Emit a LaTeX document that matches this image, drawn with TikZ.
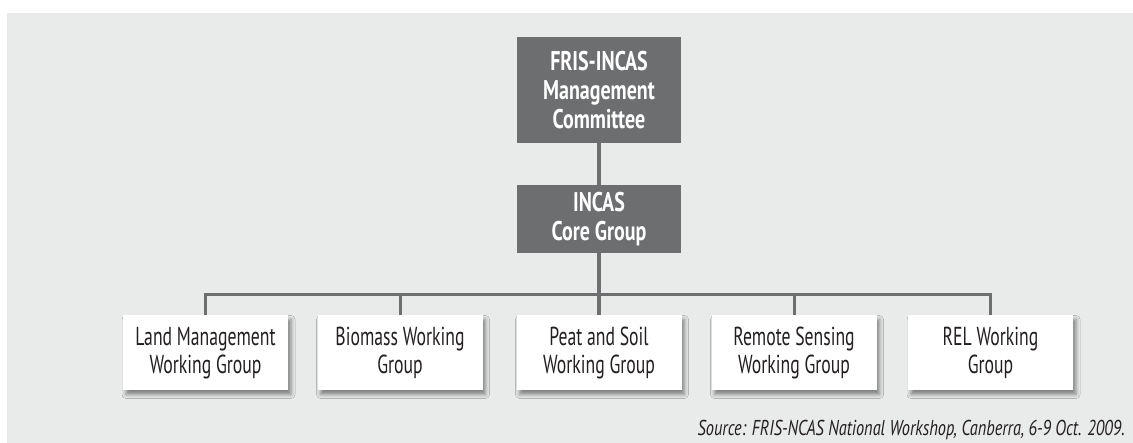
\documentclass[tikz,border=0pt]{standalone}
\usepackage{fontspec}
\setmainfont{PT Sans}[FakeStretch=0.68]
\newfontfamily\headfont{PT Sans}[FakeStretch=0.74]
\newfontfamily\srcfont{PT Sans}[FakeStretch=0.76]
\usetikzlibrary{shadows.blur}

\definecolor{panel}{HTML}{E9EAEA}
\definecolor{darkbox}{HTML}{6D6E70}
\definecolor{ink}{HTML}{231F20}

\tikzset{
  headbox/.style={fill=darkbox, text=white, inner sep=0pt, minimum width=164pt,
    align=center, font=\headfont\bfseries\fontsize{27}{29}\selectfont},
  groupbox/.style={fill=white, text=ink, inner sep=0pt, minimum width=165pt,
    minimum height=75pt, align=center, font=\fontsize{26}{28}\selectfont,
    blur shadow={shadow xshift=3pt, shadow yshift=-4pt, shadow blur radius=4pt,
      shadow opacity=45}},
  trunk/.style={draw=darkbox, line width=4pt},
  branch/.style={draw=darkbox, line width=3pt, line join=miter},
}

\begin{document}
\begin{tikzpicture}[x=1pt, y=-1pt]
  \useasboundingbox (0,0) rectangle (1133,443);
  \fill[panel] (7,13) rectangle (1133,443);

  % management levels
  \node[headbox, minimum height=106pt] (mgmt) at (599,90)
    {FRIS-INCAS\\Management\\Committee};
  \node[headbox, minimum height=68pt] (core) at (599,219)
    {INCAS\\Core Group};

  % working groups
  \node[groupbox] (land)   at (205.5,353) {Land Management\\Working Group};
  \node[groupbox] (bio)    at (400,353)   {Biomass Working\\Group};
  \node[groupbox] (peat)   at (599,353)   {Peat and Soil\\Working Group};
  \node[groupbox] (remote) at (794,353)   {Remote Sensing\\Working Group};
  \node[groupbox] (rel)    at (990.5,353) {REL Working\\Group};

  \coordinate (bus) at (599,295);

  % connectors
  \draw[trunk] (mgmt.south) -- (core.north);
  \draw[branch] (land.north) |- (bus) -| (rel.north);
  \draw[branch] (bio.north) -- (bio.north |- bus);
  \draw[branch] (remote.north) -- (remote.north |- bus);
  \draw[trunk] (core.south) -- (peat.north);

  % source line
  \node[anchor=base east, text=ink, inner sep=0pt,
    font=\srcfont\itshape\fontsize{21.5}{24}\selectfont] (src) at (1125,436)
    {Source: FRIS-NCAS National Workshop, Canberra, 6-9 Oct. 2009.};
\end{tikzpicture}
\end{document}
